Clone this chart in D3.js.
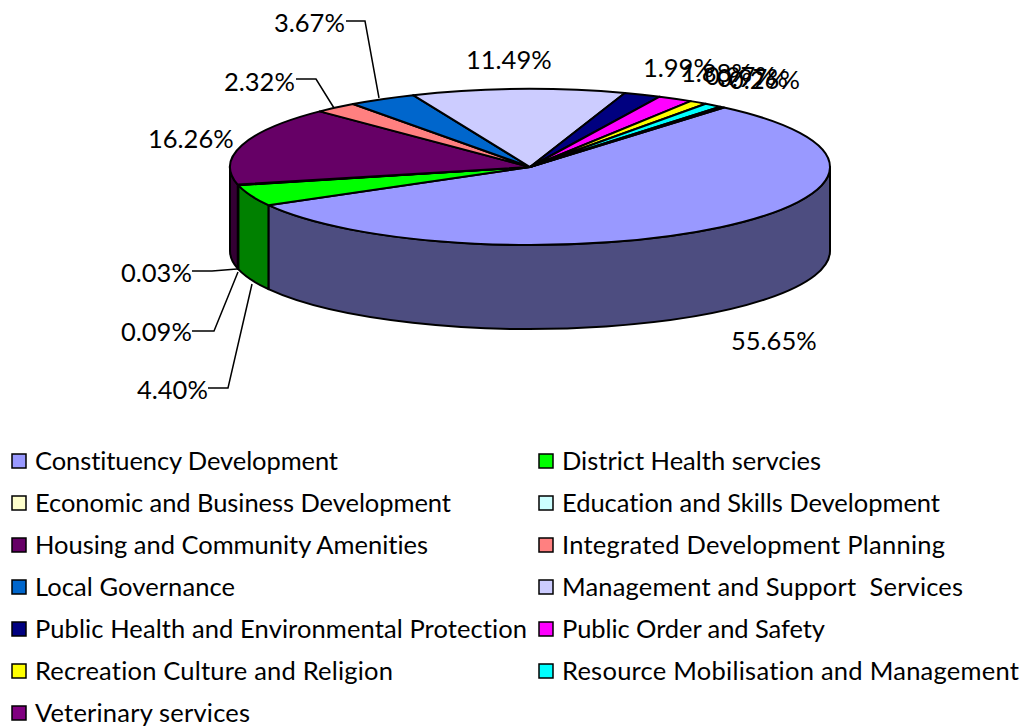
<!DOCTYPE html>
<html>
<head>
<meta charset="utf-8">
<script src="https://d3js.org/d3.v7.min.js"></script>
<style>
    html, body { margin: 0; padding: 0; background: #fff; }
    text { font-family: Lato, "Open Sans", sans-serif; fill: #000; font-variant-ligatures: none; }
</style>
</head>
<body>
<div id="chart"></div>
<script>
const categories = [
    "Constituency Development", "District Health servcies", "Economic and Business Development",
    "Education and Skills Development", "Housing and Community Amenities", "Integrated Development Planning",
    "Local Governance", "Management and Support  Services", "Public Health and Environmental Protection",
    "Public Order and Safety", "Recreation Culture and Religion", "Resource Mobilisation and Management",
    "Veterinary services"
];
const shares = [55.65, 4.40, 0.09, 0.03, 16.26, 2.32, 3.67, 11.49, 1.99, 1.88, 0.97, 0.97, 0.26];
const colors = ["#9999ff", "#00ff00", "#ffffcc", "#ccffff", "#660066", "#ff8080",
    "#0066cc", "#ccccff", "#000080", "#ff00ff", "#ffff00", "#00ffff", "#800080"];

// Label anchors (left x, baseline y) and leader points, in page pixels
const labelPos = [[731, 350], [137, 399], [121, 341], [121, 282], [148, 148], [224, 91], [274, 32],
    [466, 69], [643, 77], [681, 82], [705, 85], [717, 87], [729, 89]];
const leaders = [
    [[192, 331], [214, 331], [238, 272]],
    [[208, 388], [228, 388], [252, 284]],
    [[192, 271], [212, 271], [237, 269]],
    [[296, 79], [316, 79], [334, 108]],
    [[346, 21], [365, 21], [379, 98]]
];
// Legend text widths, Lato runs a bit different from the original font
const legendWidths = [303, 259, 416, 378, 393, 383, 200, 401, 492, 263, 358, 457, 215];

const width = 1027, height = 726;
const cx = 530, cy = 167, rx = 300, ry = 78, depth = 84;
const startDeg = 40.3;

const svg = d3.select("#chart").append("svg")
    .attr("width", width)
    .attr("height", height);

const pie = d3.pie()
    .sort(null)
    .startAngle(startDeg * Math.PI / 180)
    .endAngle((startDeg + 360) * Math.PI / 180);
const slices = pie(shares);

// x/y of a pie angle on the squashed rim
const rimX = a => cx + rx * Math.sin(a);
const rimY = a => cy - ry * Math.cos(a);

// Side walls first, only the front half of the rim shows
function wallPath(a0, a1) {
    const lo = Math.max(a0, Math.PI / 2), hi = Math.min(a1, Math.PI * 1.5);
    if (hi <= lo) return null;
    return `M${rimX(lo)},${rimY(lo)}`
        + `A${rx},${ry} 0 0 1 ${rimX(hi)},${rimY(hi)}`
        + `L${rimX(hi)},${rimY(hi) + depth}`
        + `A${rx},${ry} 0 0 0 ${rimX(lo)},${rimY(lo) + depth}Z`;
}

svg.append("g").selectAll("path")
    .data(slices.filter(d => wallPath(d.startAngle, d.endAngle)))
    .join("path")
    .attr("d", d => wallPath(d.startAngle, d.endAngle))
    .attr("fill", d => {
        const c = d3.rgb(colors[d.index]);
        return d3.rgb(c.r / 2, c.g / 2, c.b / 2).formatHex();
    })
    .attr("stroke", "#000")
    .attr("stroke-width", 2)
    .attr("stroke-linejoin", "round");

// Top face
const arc = d3.arc().innerRadius(0).outerRadius(rx);
svg.append("g")
    .attr("transform", `translate(${cx},${cy}) scale(1,${ry / rx})`)
    .selectAll("path")
    .data(slices)
    .join("path")
    .attr("d", arc)
    .attr("fill", d => colors[d.index])
    .attr("stroke", "#000")
    .attr("stroke-width", 2)
    .attr("stroke-linejoin", "round")
    .attr("vector-effect", "non-scaling-stroke");

// Leader lines
const line = d3.line();
svg.append("g").selectAll("path")
    .data(leaders)
    .join("path")
    .attr("d", line)
    .attr("fill", "none")
    .attr("stroke", "#000")
    .attr("stroke-width", 1.5);

// Data labels
svg.append("g").selectAll("text")
    .data(shares)
    .join("text")
    .attr("x", (d, i) => labelPos[i][0])
    .attr("y", (d, i) => labelPos[i][1])
    .attr("font-size", 25.5)
    .text(d => d.toFixed(2) + "%");

// Legend, two columns filled row by row
const legend = svg.append("g").selectAll("g")
    .data(categories)
    .join("g")
    .attr("transform", (d, i) => `translate(${i % 2 ? 539 : 12},${454 + 42 * Math.floor(i / 2)})`);
legend.append("rect")
    .attr("width", 14)
    .attr("height", 14)
    .attr("fill", (d, i) => colors[i])
    .attr("stroke", "#000")
    .attr("stroke-width", 1.5);
legend.append("text")
    .attr("x", 23)
    .attr("y", 16)
    .attr("font-size", 25.5)
    .attr("textLength", (d, i) => legendWidths[i])
    .attr("lengthAdjust", "spacing")
    .style("white-space", "pre")
    .text(d => d);
</script>
</body>
</html>
